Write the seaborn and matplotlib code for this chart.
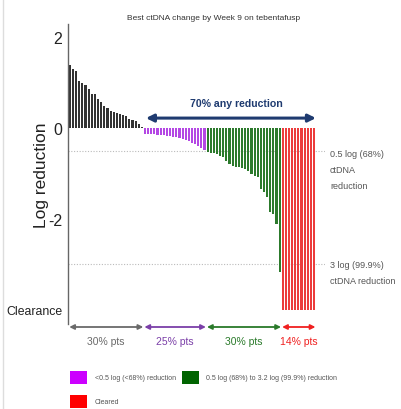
import matplotlib
matplotlib.use("Agg")
import matplotlib.pyplot as plt
from matplotlib import font_manager
from matplotlib.patches import Rectangle
from matplotlib.lines import Line2D
import pandas as pd
import seaborn as sns

# Best log change in ctDNA by week 9, one bar per patient, sorted
increase_vals = [1.39, 1.29, 1.26, 1.04, 0.99, 0.94, 0.85, 0.76, 0.74, 0.63, 0.58, 0.49,
                 0.45, 0.38, 0.36, 0.33, 0.31, 0.28, 0.26, 0.20, 0.18, 0.15, 0.09, 0.03]
small_red_vals = [-0.12, -0.13, -0.13, -0.14, -0.15, -0.15, -0.16, -0.17, -0.18, -0.19,
                  -0.20, -0.22, -0.24, -0.26, -0.29, -0.32, -0.36, -0.40, -0.44, -0.48]
large_red_vals = [-0.52, -0.54, -0.55, -0.57, -0.61, -0.64, -0.72, -0.78, -0.83, -0.85,
                  -0.86, -0.87, -0.90, -0.94, -1.00, -1.05, -1.08, -1.35, -1.40, -1.52,
                  -1.85, -1.89, -2.10, -3.16]
cleared_vals = [-4.0] * 11

group_names = ["increase", "small", "large", "cleared"]
group_values = [increase_vals, small_red_vals, large_red_vals, cleared_vals]
group_pct_labels = ["30% pts", "25% pts", "30% pts", "14% pts"]
legend_labels = ["<0.5 log (<68%) reduction",
                 "0.5 log (68%) to 3.2 log (99.9%) reduction",
                 "Cleared"]
ytick_vals = [2, 0, -2, -4]
ytick_labels = ["2", "0", "-2", "Clearance"]
ref_lines = [-0.5, -3.0]

bar_colors = {"increase": "#333333", "small": "#b447e4",
              "large": "#2c7a2c", "cleared": "#ec3c3c"}
arrow_colors = ["#6a6a6a", "#7b3fa8", "#2a7a2a", "#f02020"]
legend_colors = ["#cc00ff", "#006400", "#ff0000"]
navy = "#1f3b70"

sns.set_style("white")

# prefer a narrow sans face when one is installed
narrow_name = None
for path in font_manager.findSystemFonts():
    low = path.lower().replace(" ", "")
    if "liberationsansnarrow-regular" in low:
        try:
            font_manager.fontManager.addfont(path)
            try:
                font_manager.fontManager.addfont(path.replace("Regular", "Bold"))
            except Exception:
                pass
            narrow_name = font_manager.FontProperties(fname=path).get_name()
        except Exception:
            narrow_name = None
        break
if narrow_name:
    BASE, K = narrow_name, 1.2
else:
    BASE, K = "Liberation Sans", 1.0
plt.rcParams["font.family"] = [BASE, "DejaVu Sans"]

rows = []
idx = 0
for g, vals in zip(group_names, group_values):
    for v in vals:
        rows.append({"pt": idx, "value": v, "group": g})
        idx += 1
df = pd.DataFrame(rows)

W, H = 401, 410
fig = plt.figure(figsize=(W / 100, H / 100), dpi=100)
ax = fig.add_axes([68 / W, 1 - 325 / H, (325 - 68) / W, 300 / H])

sns.barplot(data=df, x="pt", y="value", hue="group", palette=bar_colors,
            dodge=False, width=0.68, saturation=1, linewidth=0,
            legend=False, ax=ax, order=list(range(len(df))))

ax.set_xlim(-0.6, 81.5)
ax.set_ylim(-4.31, 2.29)
ax.set_xticks([])
ax.set_xlabel("")
for s in ["top", "right", "bottom"]:
    ax.spines[s].set_visible(False)
ax.spines["left"].set_color("#666666")
ax.spines["left"].set_linewidth(1.0)
ax.set_yticks(ytick_vals)
ax.set_yticklabels(ytick_labels)
ax.tick_params(axis="y", length=2, width=0.8, color="#666666", pad=2,
               labelsize=11.5 * (1.05 if narrow_name else 1.0), labelcolor="#222222")
ax.get_yticklabels()[-1].set_fontsize(8.8 * K)

ax.set_ylabel("Log reduction", fontsize=12.5, color="#222222",
              family=["Liberation Sans", "DejaVu Sans"])
ax.yaxis.set_label_coords(-0.073, 0.5)

for y in ref_lines:
    ax.axhline(y, color="#bbbbbb", lw=0.8, ls=(0, (1, 1.5)), zorder=0)

# "any reduction" bracket above the reduced bars
n_inc = len(increase_vals)
n_tot = len(df)
ax.annotate("", xy=(n_tot - 0.4, 0.22), xytext=(n_inc + 0.3, 0.22),
            arrowprops=dict(arrowstyle="<|-|>", color=navy, lw=2.2,
                            mutation_scale=11, shrinkA=0, shrinkB=0))
ax.text((n_inc + n_tot) / 2 + 1.8, 0.55, "70% any reduction", ha="center",
        va="center", fontsize=7.6 * K, fontweight="bold", color=navy)

# group extent arrows and percentages under the axis
start = 0
xt = ax.get_xaxis_transform()
for vals, lab, col in zip(group_values, group_pct_labels, arrow_colors):
    end = start + len(vals) - 1
    ax.annotate("", xy=(end + 0.45, -0.01), xytext=(start - 0.2, -0.01),
                xycoords=xt, textcoords=xt,
                arrowprops=dict(arrowstyle="<|-|>", color=col, lw=1.3,
                                mutation_scale=7, shrinkA=0, shrinkB=0),
                annotation_clip=False)
    ax.text((start + end) / 2, -0.057, lab, transform=xt, ha="center",
            va="center", fontsize=7.5 * K, color=col, clip_on=False)
    start = end + 1

fig.text(214 / W, 1 - 18 / H, "Best ctDNA change by Week 9 on tebentafusp",
         ha="center", va="center", fontsize=6.0 * K, color="#333333")

fig.text(330 / W, 1 - 150 / H, "0.5 log (68%)\nctDNA\nreduction", ha="left",
         va="top", fontsize=6.5 * K, color="#555555", linespacing=2.0 / K)
fig.text(330 / W, 1 - 261 / H, "3 log (99.9%)\nctDNA reduction", ha="left",
         va="top", fontsize=6.5 * K, color="#555555", linespacing=2.0 / K)

# legend swatches
legend_boxes = [(70, 372), (182, 372), (70, 396)]
legend_text_x = [95, 206, 95]
for (bx, by), tx, lab, col in zip(legend_boxes, legend_text_x, legend_labels, legend_colors):
    fig.add_artist(Rectangle((bx / W, 1 - (by + 13) / H), 17 / W, 13 / H,
                             transform=fig.transFigure, color=col, lw=0))
    fig.text(tx / W, 1 - (by + 6.5) / H, lab, ha="left", va="center",
             fontsize=5.0 * K, color="#555555")

fig.add_artist(Line2D([3.5 / W, 3.5 / W], [0, 1], transform=fig.transFigure,
                      color="#dddddd", lw=1))

fig.savefig("out.png", dpi=100)
